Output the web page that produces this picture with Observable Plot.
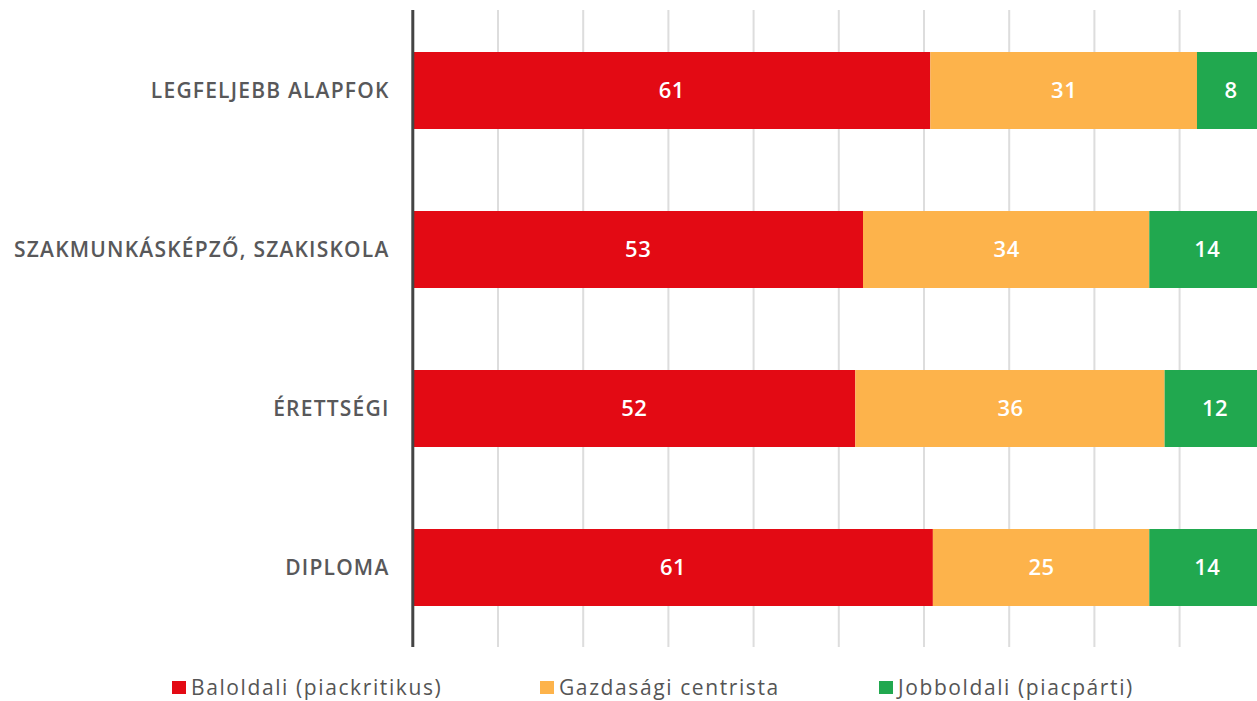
<!DOCTYPE html>
<html>
<head>
<meta charset="utf-8">
<script src="https://cdn.jsdelivr.net/npm/d3@7"></script>
<script src="https://cdn.jsdelivr.net/npm/@observablehq/plot@0.6"></script>
<style>
  html, body { margin: 0; padding: 0; background: #fff; overflow: hidden; }
  #wrap { position: relative; width: 1257px; height: 701px; overflow: hidden; font-family: "Open Sans", Roboto, sans-serif; }
  #chart { position: absolute; left: 0; top: 0; width: 1257px; overflow: hidden; }
  #chart svg { overflow: hidden; }
  .leg { position: absolute; top: 674px; height: 26px; line-height: 26px; display: flex; align-items: center; font-size: 21px; font-weight: 500; letter-spacing: 1.6px; color: #555; white-space: nowrap; }
  .leg i { display: inline-block; width: 14px; height: 13px; margin-right: 5px; margin-top: 1px; }
</style>
</head>
<body>
<div id="wrap"><div id="chart"></div></div>
<script>
// Data
const categories = ["LEGFELJEBB ALAPFOK", "SZAKMUNKÁSKÉPZŐ, SZAKISKOLA", "ÉRETTSÉGI", "DIPLOMA"];
const seriesNames = ["Baloldali (piackritikus)", "Gazdasági centrista", "Jobboldali (piacpárti)"];
const baloldali = [60.8, 52.9, 52.0, 61.1];
const centrista = [31.3, 33.6, 36.3, 25.4];
const jobboldali = [7.9, 13.5, 11.7, 13.5];
const seriesColors = ["#e30a14", "#fdb34b", "#21a84f"];
const gridTicks = [10, 20, 30, 40, 50, 60, 70, 80, 90, 100];

const seriesValues = [baloldali, centrista, jobboldali];
const rows = [];
categories.forEach((c, i) => {
  seriesNames.forEach((s, j) => {
    rows.push({cat: c, series: s, value: seriesValues[j][i]});
  });
});

const chart = Plot.plot({
  width: 1257,
  height: 662,
  marginTop: 10,
  marginBottom: 15,
  marginLeft: 412,
  marginRight: 0,
  style: {fontFamily: "'Open Sans', Roboto, sans-serif", background: "#fff"},
  x: {domain: [0, 100], range: [412.3, 1264.3], axis: null},
  y: {domain: categories, paddingInner: 0.516, paddingOuter: 0.255, label: null},
  color: {domain: seriesNames, range: seriesColors},
  marks: [
    Plot.ruleX(gridTicks, {stroke: "#dddddd", strokeWidth: 2}),
    Plot.barX(rows, Plot.stackX({y: "cat", x: "value", fill: "series"})),
    Plot.text(rows, Plot.stackX({
      y: "cat", x: "value", text: d => String(Math.round(d.value)),
      fill: "white", fontSize: 22, fontWeight: 600
    })),
    Plot.ruleX([0], {stroke: "#444", strokeWidth: 3}),
    Plot.axisY({tickSize: 0, tickPadding: 23, fontSize: 21, fontWeight: 600, color: "#58585a", label: null})
  ]
});
document.getElementById("chart").appendChild(chart);
d3.select(chart).selectAll("g[aria-label='y-axis tick label'] text").style("letter-spacing", "1.2px");
d3.select(chart).selectAll("g[aria-label='text'] text").style("letter-spacing", "0.5px");

// Legend (HTML, below the SVG)
const legendLeft = [172, 540, 879];
const wrap = document.getElementById("wrap");
seriesNames.forEach((s, j) => {
  const el = document.createElement("div");
  el.className = "leg";
  el.style.left = legendLeft[j] + "px";
  const sw = document.createElement("i");
  sw.style.background = seriesColors[j];
  el.appendChild(sw);
  el.appendChild(document.createTextNode(s));
  wrap.appendChild(el);
});
</script>
</body>
</html>
